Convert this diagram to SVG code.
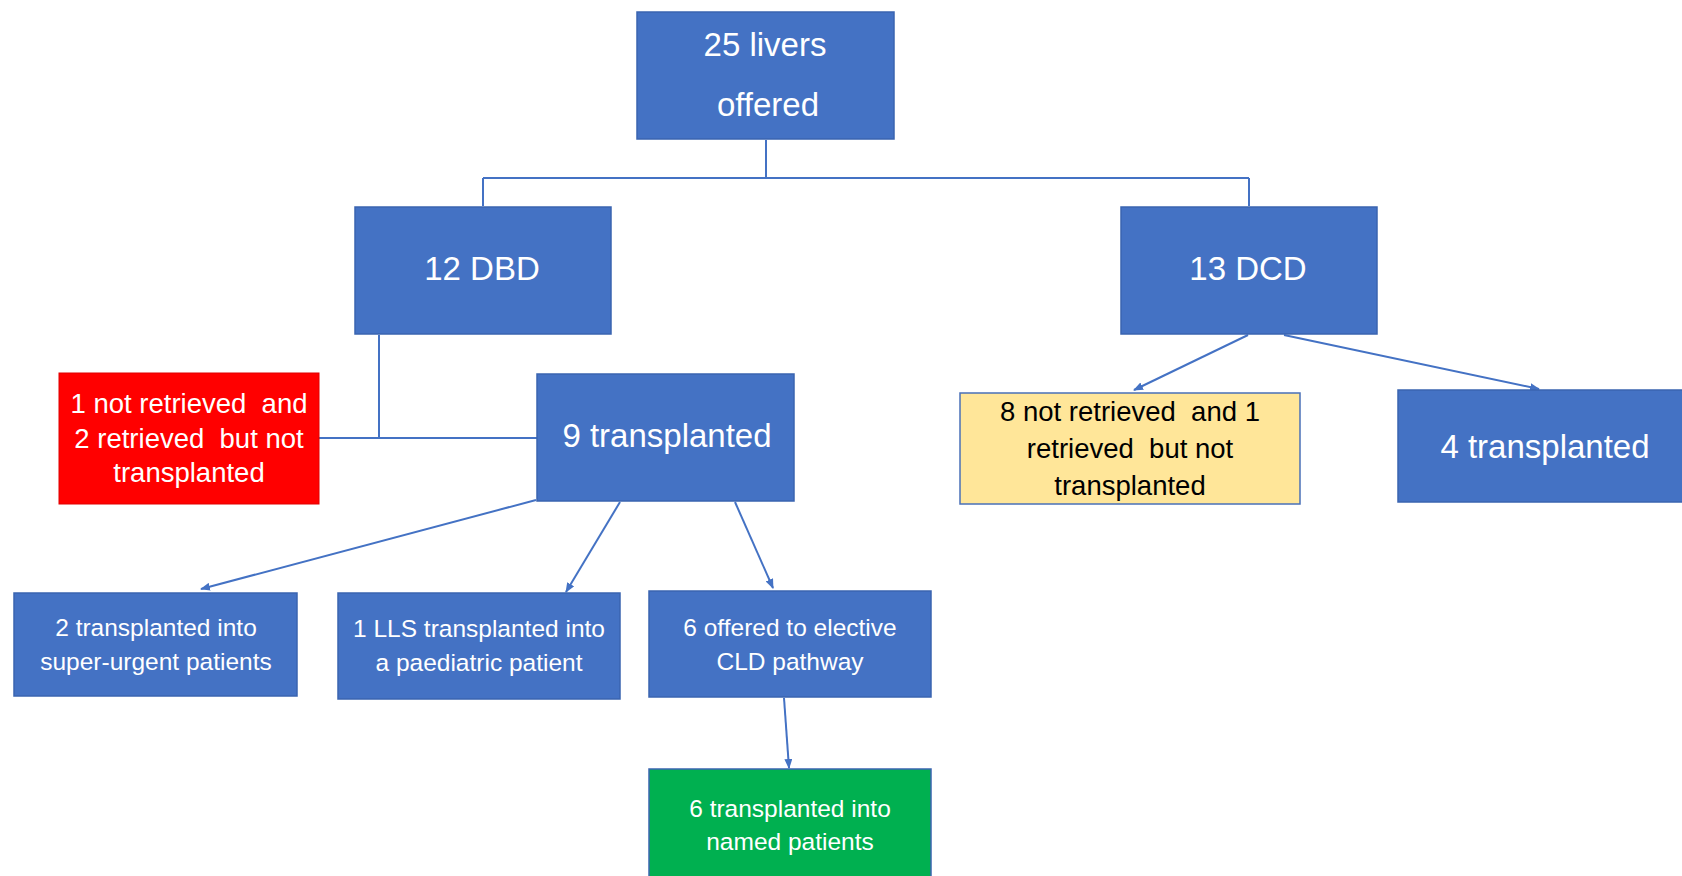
<svg xmlns="http://www.w3.org/2000/svg" width="1682" height="876" viewBox="0 0 1682 876">
<style>
.box{fill:#4472C4;stroke:#3A64B0;stroke-width:1.5}
.red{fill:#FF0000;stroke:#E00000;stroke-width:1}
.yellow{fill:#FFE699;stroke:#4A70B8;stroke-width:1.5}
.green{fill:#00B050;stroke:#3A64B0;stroke-width:1.5}
.t{font-family:"Liberation Sans",Arial,sans-serif;fill:#FFFFFF;text-anchor:middle}
.big{font-size:33px}
.mid{font-size:27.5px;white-space:pre}
.sm{font-size:24.5px}
.dark{fill:#000000}
.ln{fill:none;stroke:#4472C4;stroke-width:2}
.ar{fill:none;stroke:#4472C4;stroke-width:2;marker-end:url(#ah)}
</style>
<defs>
<marker id="ah" markerWidth="10" markerHeight="8" refX="9" refY="4" orient="auto" markerUnits="userSpaceOnUse">
<path d="M0,0 L10,4 L0,8 Z" fill="#4472C4"/>
</marker>
</defs>
<rect width="1682" height="876" fill="#FFFFFF"/>
<g id="connectors">
<path class="ln" d="M766,140 V178 M483,178 H1249 M483,178 V206 M1249,178 V206"/>
<path class="ln" d="M379,335 V438 M319,438 H537"/>
<path class="ar" d="M1248,335 L1134,390"/>
<path class="ar" d="M1284,335 L1539,389"/>
<path class="ar" d="M536,500 L201,589"/>
<path class="ar" d="M620,502 L566,592"/>
<path class="ar" d="M735,502 L773,588"/>
<path class="ar" d="M784,698 L789,768"/>
</g>
<g id="n-offered">
<rect class="box" x="637" y="12" width="257" height="127"/>
<text class="t big" x="765" y="56">25 livers</text>
<text class="t big" x="768" y="116">offered</text>
</g>
<g id="n-dbd">
<rect class="box" x="355" y="207" width="256" height="127"/>
<text class="t big" x="482" y="280">12 DBD</text>
</g>
<g id="n-dcd">
<rect class="box" x="1121" y="207" width="256" height="127"/>
<text class="t big" x="1248" y="280">13 DCD</text>
</g>
<g id="n-red">
<rect class="red" x="59" y="373" width="260" height="131"/>
<text class="t mid" x="189" y="413" xml:space="preserve">1 not retrieved  and</text>
<text class="t mid" x="189" y="448" xml:space="preserve">2 retrieved  but not</text>
<text class="t mid" x="189" y="482">transplanted</text>
</g>
<g id="n-9tx">
<rect class="box" x="537" y="374" width="257" height="127"/>
<text class="t big" x="667" y="447">9 transplanted</text>
</g>
<g id="n-yellow">
<rect class="yellow" x="960" y="393" width="340" height="111"/>
<text class="t mid dark" x="1130" y="421" xml:space="preserve">8 not retrieved  and 1</text>
<text class="t mid dark" x="1130" y="458" xml:space="preserve">retrieved  but not</text>
<text class="t mid dark" x="1130" y="495">transplanted</text>
</g>
<g id="n-4tx">
<rect class="box" x="1398" y="390" width="294" height="112"/>
<text class="t big" x="1545" y="458">4 transplanted</text>
</g>
<g id="n-superurgent">
<rect class="box" x="14" y="593" width="283" height="103"/>
<text class="t sm" x="156" y="636">2 transplanted into</text>
<text class="t sm" x="156" y="670">super-urgent patients</text>
</g>
<g id="n-lls">
<rect class="box" x="338" y="593" width="282" height="106"/>
<text class="t sm" x="479" y="637">1 LLS transplanted into</text>
<text class="t sm" x="479" y="671">a paediatric patient</text>
</g>
<g id="n-cld">
<rect class="box" x="649" y="591" width="282" height="106"/>
<text class="t sm" x="790" y="636">6 offered to elective</text>
<text class="t sm" x="790" y="670">CLD pathway</text>
</g>
<g id="n-named">
<rect class="green" x="649" y="769" width="282" height="115"/>
<text class="t sm" x="790" y="817">6 transplanted into</text>
<text class="t sm" x="790" y="850">named patients</text>
</g>
</svg>
